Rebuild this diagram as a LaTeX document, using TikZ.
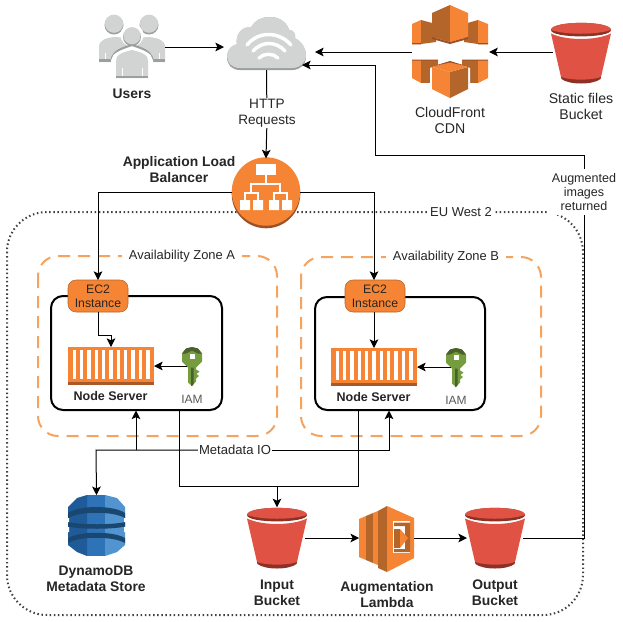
\documentclass[tikz,border=0pt]{standalone}
\usepackage{fontspec}
\setmainfont{Liberation Sans}
\usetikzlibrary{arrows.meta}
\definecolor{awsorange}{HTML}{F58534}
\definecolor{awsdark}{HTML}{9D5025}
\definecolor{awsmid}{HTML}{B4662A}
\definecolor{zoneorange}{HTML}{F4A460}
\definecolor{s3red}{HTML}{E05243}
\definecolor{s3dark}{HTML}{8C3123}
\definecolor{cloudgrey}{HTML}{D2D3D3}
\definecolor{cloudshade}{HTML}{9D9E9E}
\definecolor{keygreen}{HTML}{759C3E}
\definecolor{keydark}{HTML}{4B612C}
\definecolor{dyn1}{HTML}{2E73B8}
\definecolor{dyn2}{HTML}{205B99}
\definecolor{dyn3}{HTML}{5294CF}
\definecolor{dyn4}{HTML}{1A476F}
\tikzset{
  conn/.style={draw=black,line width=0.75pt,-{Stealth[length=6.5pt,width=6.5pt,inset=1.5pt]}},
  plainconn/.style={draw=black,line width=0.75pt},
  lab/.style={font=\fontsize{10.6}{12}\selectfont,align=center,text=black!85,inner sep=1pt},
  blab/.style={lab,font=\fontsize{10.4}{12}\selectfont\bfseries},
  whitelab/.style={lab,fill=white},
  zonelab/.style={whitelab,inner xsep=5pt,font=\fontsize{9.7}{11}\selectfont},
  nodelab/.style={blab,font=\fontsize{9.4}{11}\selectfont\bfseries},
  region/.style={draw=#1,rounded corners=15pt,line width=1.5pt,dash pattern=on 9pt off 6pt},
  anchorbox/.style={inner sep=0pt,outer sep=0pt},
  ec2box/.style={fill=awsorange,draw=awsmid,line width=0.4pt,rounded corners=6pt,minimum width=45pt,minimum height=24pt,inner sep=0pt,outer sep=0pt,align=center,font=\fontsize{9.2}{11}\selectfont,text=black!85},
  host/.style={draw=black,line width=1.5pt,rounded corners=9pt,fill=white,inner sep=0pt},
}
% s3 bucket, centre top (x,y)
\newcommand{\bucket}[2]{%
  \begin{scope}[shift={(#1,#2)}]
    \fill[s3red] (-30,10.5) .. controls (-15,17.8) and (15,17.8) .. (30,10.5) -- (20,54) .. controls (12,62) and (-12,62) .. (-20,54) -- cycle;
    \fill[s3dark] (-20,54) .. controls (-12,57.5) and (12,57.5) .. (20,54) -- (19.5,56) .. controls (12,62) and (-12,62) .. (-19.5,56) -- cycle;
    \fill[s3dark] (-30,7) .. controls (-30,-2.5) and (30,-2.5) .. (30,7) .. controls (30,15.5) and (-30,15.5) .. (-30,7) -- cycle;
    \fill[s3red] (-30,7) .. controls (-30,-2.5) and (30,-2.5) .. (30,7) .. controls (15,12) and (-15,12) .. (-30,7) -- cycle;
  \end{scope}}
% key, centre (x,y)
\newcommand{\iamkey}[2]{%
  \begin{scope}[shift={(#1,#2)}]
    \fill[keygreen] (0,-19.5) -- (6,-18) -- (10,-13) -- (10,-5) -- (4,1) -- (4,3) -- (7.5,5) -- (4.5,7.5) -- (7,9.5) -- (4,12) -- (4,15) -- (0,19.5) -- (-4,16) -- (-4,1) -- (-10,-5) -- (-10,-13) -- (-6,-18) -- cycle;
    \fill[keydark] (-10,-13) -- (-6,-18) -- (0,-19.5) -- (6,-18) -- (10,-13) -- (6,-13) -- (0,-16) -- (-6,-13) -- cycle;
    \fill[keydark] (-1,1) -- (-1,19) -- (0,19.5) -- (1.5,17.5) -- (1.5,1) -- cycle;
    \fill[white] (-2.5,-12.5) rectangle (2.5,-7.5);
  \end{scope}}
% container, top-left (x,y), 86x38
\newcommand{\container}[2]{%
  \begin{scope}[shift={(#1,#2)}]
    \fill[awsorange] (0,0) rectangle (86,35);
    \fill[awsdark!85!awsorange] (0,35) rectangle (86,38);
    \foreach \i in {0,...,10}{\fill[white] (4.5+\i*7.35,3) rectangle (8+\i*7.35,32);}
  \end{scope}}
% person head
\newcommand{\personhead}[3]{%
  \fill[cloudshade] (#1,#2) circle [radius=#3];
  \fill[cloudgrey] (#1,#2-1.3) circle [radius=#3-0.4];}
\begin{document}
\begin{tikzpicture}[x=0.75pt,y=-0.75pt]
\useasboundingbox (0,0) rectangle (622,622);
\fill[white] (0,0) rectangle (622,622);

% regions
\draw[draw=black!75,line width=1.5pt,rounded corners=30pt,dash pattern=on 1.1pt off 2pt] (7,212) rectangle (583,615);
\node[zonelab,inner xsep=2pt] (euwest) at (461,212) {EU West 2};
\draw[region=zoneorange] (38,256) rectangle (277,436);
\draw[region=zoneorange] (301,257) rectangle (541,436);
\node[zonelab] (zonea) at (182,256) {Availability Zone A};
\node[zonelab] (zoneb) at (446,257) {Availability Zone B};
\node[host,minimum width=128.25pt,minimum height=85.5pt] (hosta) at (136.5,353) {};
\node[host,minimum width=127.5pt,minimum height=84.75pt] (hostb) at (400,353.5) {};

% icon anchors
\node[anchorbox,minimum width=50pt,minimum height=47pt] (users) at (132,47) {};
\node[anchorbox,minimum width=59pt,minimum height=40pt] (cloud) at (266.5,43.5) {};
\node[anchorbox,minimum width=58pt,minimum height=70pt] (cf) at (450.5,52) {};
\node[anchorbox,minimum width=42pt,minimum height=45pt] (staticb) at (581,52) {};
\node[anchorbox,circle,minimum width=51pt] (alb) at (266,192.5) {};
\node[anchorbox,minimum width=64.5pt,minimum height=28.5pt] (conta) at (111,366) {};
\node[anchorbox,minimum width=64.5pt,minimum height=28.5pt] (contb) at (374,367) {};
\node[anchorbox,minimum width=8pt,minimum height=29pt] (keya) at (192,366) {};
\node[anchorbox,minimum width=8pt,minimum height=29pt] (keyb) at (456,367) {};
\node[anchorbox,minimum width=42.75pt,minimum height=45.5pt] (dynamo) at (96.5,525.5) {};
\node[anchorbox,minimum width=42pt,minimum height=46pt] (inb) at (277,538) {};
\node[anchorbox,minimum width=41pt,minimum height=50pt] (lam) at (386.5,538) {};
\node[anchorbox,minimum width=42pt,minimum height=46pt] (outb) at (495,538) {};

% Users
\begin{scope}
  \personhead{114}{25}{9.5}
  \personhead{149}{25}{9.5}
  \fill[cloudgrey] (99,62) -- (99,47) .. controls (99,40) and (106,38) .. (114,37) .. controls (124,37) and (128,40) .. (132,43) .. controls (136,40) and (140,37) .. (149,37) .. controls (158,38) and (165,40) .. (165,47) -- (165,62) -- cycle;
  \fill[cloudshade] (99,59) rectangle (165,62);
  \fill[white] (132,35) circle[radius=11.5];
  \fill[white] (111,81) -- (111,60) .. controls (112,53) and (120,50) .. (132,46) .. controls (144,50) and (152,53) .. (153,60) -- (153,81) -- cycle;
  \fill[cloudshade] (111,60) .. controls (112,53) and (120,50) .. (132,46) .. controls (144,50) and (152,53) .. (153,60) -- (153,57) .. controls (150,50) and (142,47) .. (132,44) .. controls (122,47) and (114,50) .. (111,57) -- cycle;
  \personhead{132}{37}{9}
  \fill[cloudgrey] (116,78) -- (116,60) .. controls (116,54) and (124,52) .. (132,50) .. controls (140,52) and (148,54) .. (148,60) -- (148,78) -- cycle;
  \fill[cloudshade] (116,75.5) rectangle (148,78);
  \draw[white,line width=0.5pt] (122,75.5) -- (122,68) (142,75.5) -- (142,68) (105,59) -- (105,53) (159,59) -- (159,53);
\end{scope}

% Cloud
\begin{scope}
  \fill[cloudshade] (240,70) .. controls (232,70) and (227,65) .. (227,57) .. controls (227,50) and (232,46) .. (237,45) .. controls (235,35) and (242,27) .. (251,28) .. controls (255,20) and (262,17) .. (270,17) .. controls (280,17) and (287,23) .. (289,30) .. controls (294,30) and (296,35) .. (295,39) .. controls (302,42) and (306,49) .. (306,56) .. controls (306,65) and (300,70) .. (292,70) -- cycle;
  \fill[cloudgrey] (240,68) .. controls (232,68) and (227,63) .. (227,56) .. controls (227,49) and (232,45) .. (237,44) .. controls (235,34) and (242,26) .. (251,27) .. controls (255,20) and (262,17) .. (270,17) .. controls (280,17) and (287,23) .. (289,30) .. controls (294,30) and (296,34) .. (295,38) .. controls (302,41) and (306,48) .. (306,55) .. controls (306,63) and (300,68) .. (292,68) -- cycle;
  \draw[white,line width=2.6pt,line cap=round] (247,45) .. controls (258,31) and (279,31) .. (291,45);
  \draw[white,line width=2.6pt,line cap=round] (253,51) .. controls (262,41) and (276,41) .. (285,51);
  \draw[white,line width=2.6pt,line cap=round] (259,58) .. controls (264,53) and (273,53) .. (278,58);
\end{scope}

% CloudFront
\begin{scope}
  % top small cubes
  \fill[awsorange] (412,24) -- (421,20) -- (421,44) -- (412,44) -- cycle;
  \fill[awsmid] (421,20) -- (436,24) -- (436,42) -- (421,44) -- cycle;
  \fill[awsmid] (464,24) -- (478,20) -- (478,44) -- (464,42) -- cycle;
  \fill[awsorange] (478,20) -- (488,24) -- (488,44) -- (478,44) -- cycle;
  \fill[awsdark] (412,43) rectangle (421,44.3) (478,43) rectangle (488,44.3);
  % top big cube
  \fill[awsmid] (450,5) -- (432,13) -- (432,37) -- (450,42) -- cycle;
  \fill[awsorange] (450,5) -- (468,13) -- (468,37) -- (450,42) -- cycle;
  \fill[awsdark] (432,37) -- (450,42) -- (468,37) -- (468,39) -- (450,44) -- (432,39) -- cycle;
  % bottom small cubes
  \fill[awsorange] (412,60) -- (421,60) -- (421,83) -- (412,78) -- cycle;
  \fill[awsmid] (421,60) -- (438,60) -- (438,83) -- (421,83) -- cycle;
  \fill[awsmid] (462,60) -- (478,60) -- (478,83) -- (462,83) -- cycle;
  \fill[awsorange] (478,60) -- (488,60) -- (488,78) -- (478,83) -- cycle;
  \fill[awsdark] (412,59.5) rectangle (438,60.7) (462,59.5) rectangle (488,60.7);
  % bottom big cube
  \fill[white] (430,68) -- (450,60.5) -- (470,68) -- (470,90) -- (450,99) -- (430,90) -- cycle;
  \fill[awsorange] (432,67) -- (450,72) -- (450,98) -- (432,89) -- cycle;
  \fill[awsmid] (468,67) -- (450,72) -- (450,98) -- (468,89) -- cycle;
  \fill[awsorange] (432,67) -- (450,61.5) -- (468,67) -- (450,72) -- cycle;
  \fill[awsdark] (432,66.5) -- (450,61) -- (468,66.5) -- (450,62.5) -- cycle;
\end{scope}

% Buckets
\bucket{581}{23}
\bucket{277}{508}
\bucket{495}{508}

% ALB
\fill[awsdark] (266,194) circle [radius=34.3];
\fill[awsorange] (266,191.5) circle [radius=34.2];
\begin{scope}[white]
  \fill (256,164) rectangle (276,175);
  \fill (240,200) rectangle (250,210) (253,200) rectangle (263,210) (269,200) rectangle (279,210) (282,200) rectangle (292,210);
  \draw[white,line width=1pt] (266,175) -- (266,184) (251,193) -- (251,184) -- (280,184) -- (280,193);
  \draw[white,line width=1pt] (245,200) -- (245,193) -- (258,193) -- (258,200) (274,200) -- (274,193) -- (287,193) -- (287,200);
\end{scope}

% EC2
\node[ec2box] (eca) at (98,296) {EC2\\[-0.5pt]Instance};
\node[ec2box] (ecb) at (375,296) {EC2\\[-0.5pt]Instance};

% Containers and keys
\container{68}{347}
\container{331}{348}
\iamkey{192}{366.5}
\iamkey{456}{367.5}

% DynamoDB
\begin{scope}
  \fill[dyn1] (87,495) -- (105,495) -- (105,556) -- (87,556) -- cycle;
  \fill[dyn2] (87,495) -- (77,498) -- (68,507) -- (68,545) -- (77,552) -- (87,556) -- cycle;
  \fill[dyn3] (105,495) -- (117,498) -- (125,507) -- (125,545) -- (117,552) -- (105,556) -- cycle;
  \fill[dyn4] (68,513) .. controls (80,505) and (113,505) .. (125,513) -- (125,518) .. controls (113,511) and (80,511) .. (68,518) -- cycle;
  \fill[dyn4] (68,522) .. controls (80,525) and (113,525) .. (125,522) -- (125,526.5) .. controls (113,529.5) and (80,529.5) .. (68,526.5) -- cycle;
  \fill[dyn4] (68,538) .. controls (80,531) and (113,531) .. (125,538) -- (125,543) .. controls (113,536) and (80,536) .. (68,543) -- cycle;
  \fill[white] (67,518) rectangle (69,522) (67,527) rectangle (69,532);
  \fill[white] (124,518) rectangle (126,522) (124,527) rectangle (126,532);
\end{scope}

% Lambda
\begin{scope}
  \fill[awsorange] (359,519) -- (366,516) -- (366,560) -- (359,557) -- cycle;
  \fill[awsmid] (366,516) -- (373,513) -- (373,563) -- (366,560) -- cycle;
  \fill[awsorange] (373,513) -- (378,511) -- (378,565) -- (373,563) -- cycle;
  \fill[awsmid] (378,511) -- (387,506) -- (387,572) -- (378,568) -- cycle;
  \fill[awsorange] (387,506) -- (414,518) -- (414,558) -- (387,572) -- cycle;
  \fill[white] (393,521) -- (410,521) -- (410,553) -- (393,553) -- cycle;
  \fill[awsmid] (394,522.5) -- (410,522.5) -- (410,552) -- (394,552) -- (394,549) -- (405,549) -- (405,526) -- (394,526) -- cycle;
  \fill[awsmid] (394,529) -- (400,529) -- (400,548) -- (394,548) -- cycle;
  \fill[awsorange] (400,529) -- (408,538) -- (400,548) -- cycle;
\end{scope}

% connectors
\draw[conn] (users.east) -- (224,47);
\draw[plainconn] (cloud.south) -- (267,120);
\draw[conn] (267,120) -- (alb.north);
\node[whitelab,font=\fontsize{10.2}{12}\selectfont] (http) at (267,113) {HTTP\\Requests};
\draw[conn] (alb.west) -- (98,192.5) -- (eca.north);
\draw[conn] (alb.east) -- (374,192.5) -- (374,280);
\draw[conn] (eca.south) -- (98,335) -- (111,335) -- (conta.north);
\draw[conn] (ecb.south -| contb.north) -- (contb.north);
\draw[conn] (keya.west) -- (conta.east);
\draw[conn] (keyb.west) -- (contb.east);

\draw[conn] (242,450) -- (96,450) -- (dynamo.north);
\draw[conn] (136,450) -- (136,410.5);
\draw[conn] (242,450) -- (389,450) -- (389,410.5);
\node[whitelab,font=\fontsize{9.8}{12}\selectfont] (meta) at (235,450) {Metadata IO};

\draw[plainconn] (179,410) -- (179,486) -- (358,486) -- (358,410);
\draw[conn] (277,486) -- (inb.north);
\draw[conn] (inb.east) -- (lam.west);
\draw[conn] (lam.east) -- (outb.west);
\coordinate (turn1) at (584,155);
\coordinate (turn2) at (375,155);
\coordinate (turn3) at (375,65);
\draw[conn] (outb.east) -- (584,538) -- (turn1) -- (turn2) -- (turn3) -- (302,65);
\coordinate (cfarrow) at (315,52);
\draw[conn] (cf.west) -- (cfarrow);
\draw[conn] (staticb.west) -- (cf.east);
\node[whitelab,font=\fontsize{9.4}{10.5}\selectfont,inner sep=3pt] (aug) at (584,192) {Augmented\\images\\returned};

% labels
\node[blab] (lusers) at (132,94) {Users};
\node[lab] (lcf) at (450,120.5) {CloudFront\\CDN};
\node[lab] (lstatic) at (581,106) {Static files\\Bucket};
\node[blab] (lalb) at (179,170) {Application Load\\Balancer};
\node[nodelab] (lna) at (110.5,396.5) {Node Server};
\node[nodelab] (lnb) at (373.5,397) {Node Server};
\node[lab,font=\fontsize{9}{11}\selectfont,text=black!65] (liama) at (192,399) {IAM};
\node[lab,font=\fontsize{9}{11}\selectfont,text=black!65] (liamb) at (456,400) {IAM};
\node[blab] (ldyn) at (96,579) {DynamoDB\\Metadata Store};
\node[blab] (linb) at (277,593) {Input\\Bucket};
\node[blab] (llam) at (387,595) {Augmentation\\Lambda};
\node[blab] (loutb) at (495,593) {Output\\Bucket};
\end{tikzpicture}
\end{document}
